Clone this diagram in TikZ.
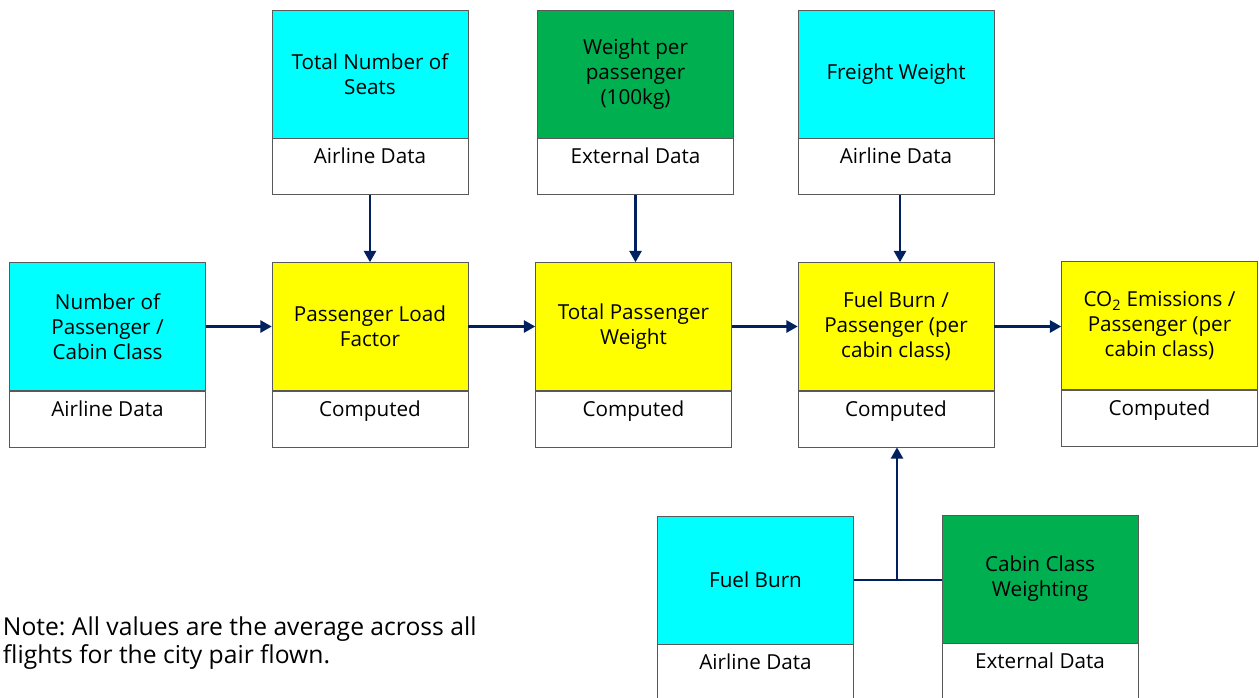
\documentclass[tikz,border=0pt]{standalone}
\usepackage{fontspec}
\setmainfont{Open Sans}
\frenchspacing
\usetikzlibrary{positioning,arrows.meta}
\definecolor{boxcyan}{RGB}{0,255,255}
\definecolor{boxgreen}{RGB}{0,176,80}
\definecolor{boxyellow}{RGB}{255,255,0}
\definecolor{flownavy}{RGB}{0,32,96}
\begin{document}
\begin{tikzpicture}[x=0.75pt,y=-0.75pt,
    top/.style={draw=black!65, minimum width=147pt, minimum height=96pt,
        align=center, font=\fontsize{15.5}{18.75}\selectfont},
    airline/.style={top, fill=boxcyan},
    external/.style={top, fill=boxgreen},
    computed/.style={top, fill=boxyellow},
    source/.style={draw=black!65, fill=white, minimum width=147pt, minimum height=42pt,
        text height=10pt, text depth=14pt, font=\fontsize{15.5}{18.75}\selectfont},
    link/.style={draw=flownavy, line width=1.9pt},
    flow/.style={link, -{Triangle[length=8.5pt,width=9pt]}}]

        \clip (0,0) rectangle (1259,697);

        % Eingaben oben
        \node[airline] (seats) at (370,74) {Total Number of\\Seats};
        \node[source, below=0pt of seats] (seatsdata) {Airline Data};
        \node[external] (wpp) at (635.5,74) {Weight per\\passenger\\(100kg)};
        \node[source, below=0pt of wpp] (wppdata) {External Data};
        \node[airline] (freight) at (896,74) {Freight Weight};
        \node[source, below=0pt of freight] (freightdata) {Airline Data};

        % Hauptkette
        \node[airline] (numpax) at (107.5,326.5) {Number of\\Passenger /\\Cabin Class};
        \node[source, below=0pt of numpax] (numpaxdata) {Airline Data};
        \node[computed] (load) at (370,326.5) {Passenger Load\\Factor};
        \node[source, below=0pt of load] (loaddata) {Computed};
        \node[computed] (pw) at (633.5,326.5) {Total Passenger\\Weight};
        \node[source, below=0pt of pw] (pwdata) {Computed};
        \node[computed] (burn) at (896,326.5) {Fuel Burn /\\Passenger (per\\cabin class)};
        \node[source, below=0pt of burn] (burndata) {Computed};
        \node[computed] (co2) at (1159.5,325.5) {CO\textsubscript{2} Emissions /\\Passenger (per\\cabin class)};
        \node[source, below=0pt of co2] (co2data) {Computed};

        % Eingaben unten
        \node[airline] (fuel) at (755.5,580) {Fuel Burn};
        \node[source, below=0pt of fuel] (fueldata) {Airline Data};
        \node[external] (ccw) at (1040,579) {Cabin Class\\Weighting};
        \node[source, below=0pt of ccw] (ccwdata) {External Data};

        % Pfeile
        \draw[flow] (seatsdata.south) -- (load.north);
        \draw[flow] (wppdata.south) -- (wppdata.south |- pw.north);
        \draw[flow] ([xshift=3pt]freightdata.south) -- ([xshift=3pt]burn.north);
        \foreach \a/\b in {numpax/load, load/pw, pw/burn, burn/co2}
            \draw[flow] (\a.east) -- (\a.east -| \b.west);
        \draw[link] (fuel.east) -- (fuel.east -| ccw.west);
        \coordinate (join) at ([xshift=0.75pt]burndata.south |- fuel.east);
        \draw[flow] (join) -- ([xshift=0.75pt]burndata.south);

        % Anmerkung
        \node[anchor=west, align=left, inner xsep=2pt, font=\fontsize{18.5}{21}\selectfont] (note) at (0,643)
            {Note: All values are the average across all\\flights for the city pair flown.};
    \end{tikzpicture}
\end{document}
